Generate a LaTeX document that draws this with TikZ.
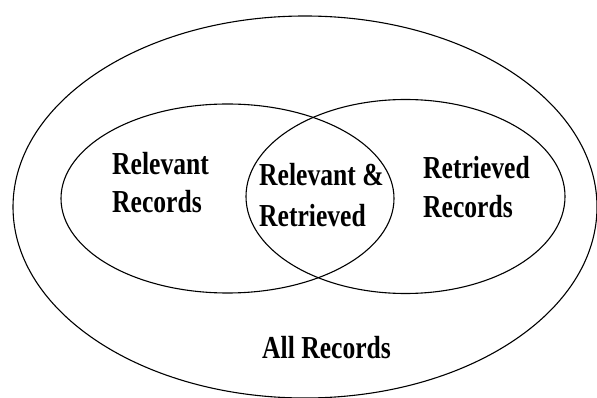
\documentclass[tikz,border=0pt]{standalone}
\usepackage{fontspec}
\usepackage{graphicx}
\setmainfont{Liberation Serif}
\begin{document}
\begin{tikzpicture}[x=1pt,y=-1pt,
  setline/.style={line width=1.1pt, draw=black},
  lbl/.style={anchor=base west, inner sep=0pt, font=\fontsize{32}{38}\selectfont\bfseries}]
\newcommand{\narrow}[1]{\scalebox{0.8}[1]{#1}}
\useasboundingbox (0,0) rectangle (597,398);
% universe of all records
\draw[setline] (305,207) ellipse [x radius=292pt, y radius=191pt];
% relevant and retrieved sets
\draw[setline] (227.5,198.5) ellipse [x radius=166.5pt, y radius=94.5pt];
\draw[setline] (405.5,196.5) ellipse [x radius=159.5pt, y radius=97pt];
% labels
\node[lbl] (rel1) at (112,175) {\narrow{Relevant}};
\node[lbl] (rel2) at (112,213) {\narrow{Records}};
\node[lbl] (both1) at (259,186) {\narrow{Relevant \&}};
\node[lbl] (both2) at (259,226) {\narrow{Retrieved}};
\node[lbl] (ret1) at (423,179) {\narrow{Retrieved}};
\node[lbl] (ret2) at (423,218) {\narrow{Records}};
\node[lbl] (all) at (262,358) {\narrow{All Records}};
\end{tikzpicture}
\end{document}
